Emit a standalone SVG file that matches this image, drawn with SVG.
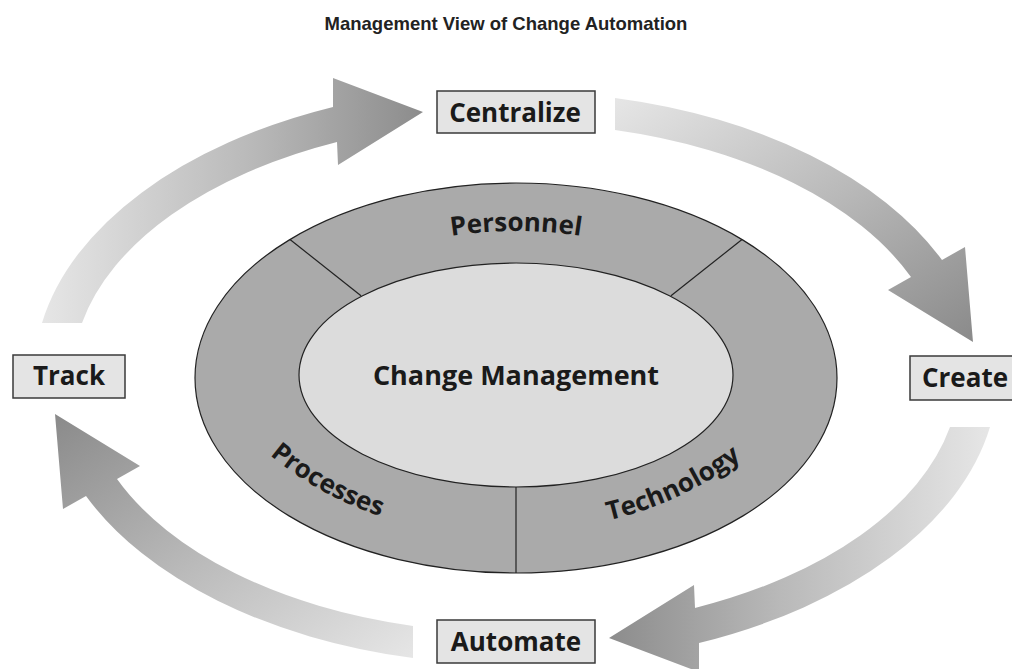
<svg xmlns="http://www.w3.org/2000/svg" width="1012" height="669" viewBox="0 0 1012 669">
  <defs>
    <linearGradient id="gradArc1" x1="0" y1="0" x2="1" y2="0">
      <stop offset="0" stop-color="#e6e6e6"/>
      <stop offset="0.55" stop-color="#b9b9b9"/>
      <stop offset="1" stop-color="#8c8c8c"/>
    </linearGradient>
    <linearGradient id="gradArc2" x1="0" y1="0" x2="1" y2="1">
      <stop offset="0" stop-color="#e6e6e6"/>
      <stop offset="0.5" stop-color="#bababa"/>
      <stop offset="1" stop-color="#8a8a8a"/>
    </linearGradient>
    <!-- baselines for the ring labels -->
    <path id="pathPersonnel" d="M 266 375 A 250 144 0 0 1 766 375"/>
    <path id="pathProcesses" d="M 243.2 429.8 A 330 330 0 0 0 415.8 525.5"/>
    <path id="pathTechnology" d="M 583 525.7 A 365 365 0 0 0 762 442.2"/>
  </defs>
  <style>
    .title { font-family: "Liberation Sans", Arial, sans-serif; font-weight: 700; font-size: 18.5px; fill: #222; }
    .label { font-family: "Open Sans", "Liberation Sans", sans-serif; font-weight: 700; font-size: 26px; fill: #1a1a1a; }
    .core { font-family: "Open Sans", "Liberation Sans", sans-serif; font-weight: 700; font-size: 27px; fill: #1a1a1a; }
    .box { fill: #e4e4e4; stroke: #3a3a3a; stroke-width: 1.5; }
    .ring { fill: #aaaaaa; stroke: #222; stroke-width: 1.2; }
    .hub { fill: #dcdcdc; stroke: #222; stroke-width: 1.2; }
    .divider { stroke: #222; stroke-width: 1.2; fill: none; }
  </style>

  <rect width="1012" height="669" fill="#ffffff"/>

  <text class="title" x="506" y="30" text-anchor="middle">Management View of Change Automation</text>

  <!-- cycle arrows -->
  <g id="connectors">
    <path id="arrow-track-centralize" fill="url(#gradArc1)"
          d="M 42 323 A 481.8 289.7 0 0 1 333 107 L 333 78 L 423 112 L 338 165 L 337 142 A 443.3 254.7 0 0 0 82 323 Z"/>
    <path id="arrow-centralize-create" fill="url(#gradArc2)"
          d="M 615 98 A 466 283.5 0 0 1 942 260 L 965 247 L 973 342 L 888 290 L 911 277 A 428.9 251.8 0 0 0 615 130 Z"/>
    <path id="arrow-create-automate" fill="url(#gradArc1)" transform="rotate(180 516 375)"
          d="M 42 323 A 481.8 289.7 0 0 1 333 107 L 333 78 L 423 112 L 338 165 L 337 142 A 443.3 254.7 0 0 0 82 323 Z"/>
    <path id="arrow-automate-track" fill="url(#gradArc2)" transform="translate(-4 6) rotate(180 516 375)"
          d="M 615 98 A 466 283.5 0 0 1 942 260 L 965 247 L 973 342 L 888 290 L 911 277 A 428.9 251.8 0 0 0 615 130 Z"/>
  </g>

  <!-- central ring: personnel, processes, technology around change management -->
  <g id="ring">
    <ellipse class="ring" cx="516" cy="378" rx="321" ry="195"/>
    <line class="divider" x1="290" y1="239.5" x2="361" y2="295.7"/>
    <line class="divider" x1="742" y1="239.5" x2="671" y2="295.7"/>
    <line class="divider" x1="516" y1="487" x2="516" y2="573"/>
    <text class="label"><textPath href="#pathPersonnel" startOffset="50%" text-anchor="middle">Personnel</textPath></text>
    <text class="label"><textPath href="#pathProcesses" startOffset="50%" text-anchor="middle">Processes</textPath></text>
    <text class="label"><textPath href="#pathTechnology" startOffset="50%" text-anchor="middle">Technology</textPath></text>
  </g>

  <g id="change-management">
    <ellipse class="hub" cx="516" cy="375" rx="217" ry="112"/>
    <text class="core" x="516" y="385" text-anchor="middle">Change Management</text>
  </g>

  <g id="centralize">
    <rect class="box" x="437" y="91" width="158" height="42"/>
    <text class="label" x="515" y="122" text-anchor="middle">Centralize</text>
  </g>

  <g id="create">
    <rect class="box" x="910" y="356" width="115" height="44"/>
    <text class="label" x="922" y="387">Create</text>
  </g>

  <g id="automate">
    <rect class="box" x="437" y="620" width="158" height="43"/>
    <text class="label" x="516" y="651" text-anchor="middle">Automate</text>
  </g>

  <g id="track">
    <rect class="box" x="13" y="355" width="112" height="43"/>
    <text class="label" x="69" y="385" text-anchor="middle">Track</text>
  </g>
</svg>
